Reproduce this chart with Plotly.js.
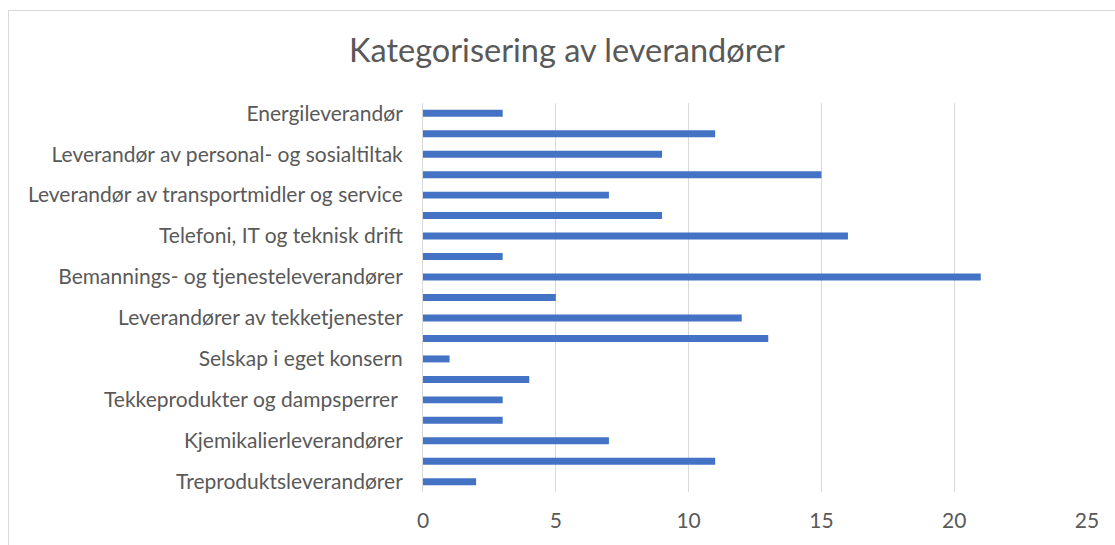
<!DOCTYPE html>
<html><head><meta charset="utf-8">
<script src="https://cdn.plot.ly/plotly-3.0.1.min.js"></script>
<style>
html,body{margin:0;padding:0;background:#fff;overflow:hidden;}
#frame{position:absolute;left:8px;top:10px;width:1120px;height:600px;border:1px solid #d9d9d9;box-sizing:border-box;}
#chart{position:absolute;left:0;top:0;width:1115px;height:545px;}
</style></head>
<body>
<div id="frame"></div>
<div id="chart"></div>
<script>
// Categories top-to-bottom; hidden labels in the reference are not readable
const categories = [
  "Energileverandør",
  "Kategori 2",
  "Leverandør av personal- og sosialtiltak",
  "Kategori 4",
  "Leverandør av transportmidler og service",
  "Kategori 6",
  "Telefoni, IT og teknisk drift",
  "Kategori 8",
  "Bemannings- og tjenesteleverandører",
  "Kategori 10",
  "Leverandører av tekketjenester",
  "Kategori 12",
  "Selskap i eget konsern",
  "Kategori 14",
  "Tekkeprodukter og dampsperrer ",
  "Kategori 16",
  "Kjemikalierleverandører",
  "Kategori 18",
  "Treproduktsleverandører"
];
const values = [3, 11, 9, 15, 7, 9, 16, 3, 21, 5, 12, 13, 1, 4, 3, 3, 7, 11, 2];
const shownLabels = categories.filter((c, i) => i % 2 === 0);
const xTicks = [0, 5, 10, 15, 20, 25];

const font = "Lato, 'Open Sans', sans-serif";
Plotly.newPlot('chart', [{
  type: 'bar',
  orientation: 'h',
  y: categories,
  x: values,
  marker: {color: '#4472C4'},
  hoverinfo: 'x+y'
}], {
  width: 1115, height: 545,
  paper_bgcolor: 'rgba(0,0,0,0)',
  plot_bgcolor: 'rgba(0,0,0,0)',
  margin: {l: 423, r: 28, t: 103, b: 53},
  bargap: 0.66,
  showlegend: false,
  title: {text: 'Kategorisering av leverandører', font: {family: font, size: 32.5, color: '#595959'}, x: 0.5085, xanchor: 'center', y: 0.908, yanchor: 'middle'},
  xaxis: {
    range: [0, 25], tickvals: xTicks, showgrid: true, gridcolor: '#d9d9d9', gridwidth: 1,
    zeroline: false, showline: false, ticks: '', ticklabelstandoff: 14,
    tickfont: {family: font, size: 21, color: '#595959'}, fixedrange: true
  },
  yaxis: {
    type: 'category', autorange: 'reversed', tickvals: shownLabels, ticktext: shownLabels,
    showgrid: false, zeroline: false, showline: true, linecolor: '#d9d9d9', linewidth: 1,
    ticks: '', ticklabelstandoff: 15,
    tickfont: {family: font, size: 21, color: '#595959'}, fixedrange: true
  }
}, {displayModeBar: false, staticPlot: true});
</script>
</body></html>
